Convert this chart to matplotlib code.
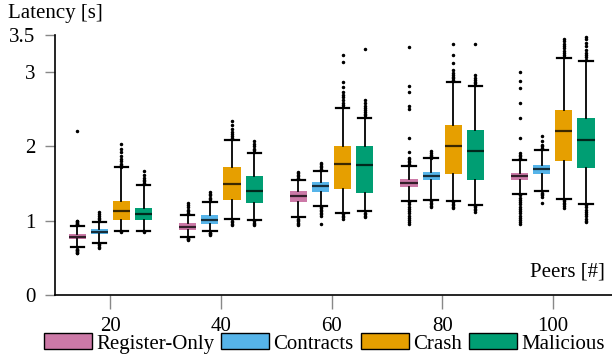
import matplotlib.pyplot as plt
from matplotlib.patches import Patch

# peers on the x axis
peers = [20, 40, 60, 80, 100]
series = ['Register-Only', 'Contracts', 'Crash', 'Malicious']
colors = ['#CC79A7', '#56B4E9', '#E69F00', '#009E73']

# box stats per series (one value per peer count)
q1 = [[0.753, 0.876, 1.258, 1.448, 1.544],
      [0.820, 0.958, 1.390, 1.544, 1.625],
      [1.012, 1.285, 1.421, 1.635, 1.802],
      [1.012, 1.244, 1.380, 1.553, 1.707]]
medians = [[0.785, 0.922, 1.335, 1.512, 1.598],
           [0.854, 1.012, 1.462, 1.598, 1.703],
           [1.127, 1.494, 1.762, 2.012, 2.203],
           [1.090, 1.407, 1.748, 1.935, 2.089]]
q3 = [[0.817, 0.971, 1.403, 1.563, 1.649],
      [0.886, 1.076, 1.522, 1.662, 1.753],
      [1.267, 1.717, 2.003, 2.289, 2.493],
      [1.172, 1.608, 2.003, 2.220, 2.384]]
whis_lo = [[0.640, 0.780, 1.049, 1.271, 1.362],
           [0.700, 0.858, 1.203, 1.277, 1.394],
           [0.868, 1.017, 1.108, 1.267, 1.298],
           [0.868, 1.004, 1.130, 1.213, 1.226]]
whis_hi = [[0.926, 1.076, 1.549, 1.734, 1.812],
           [0.985, 1.258, 1.666, 1.839, 1.948],
           [1.717, 2.089, 2.516, 2.865, 3.192],
           [1.480, 1.917, 2.384, 2.811, 3.147]]

register_fliers = [
    [0.94, 0.95, 0.96, 0.97, 0.98, 0.99, 1.0, 0.62, 0.61, 0.60, 0.59, 0.58, 0.57, 0.56, 2.21],
    [1.09, 1.11, 1.13, 1.15, 1.18, 1.21, 1.24, 0.77, 0.76, 0.75, 0.74],
    [1.56, 1.58, 1.60, 1.62, 1.64, 1.66, 1.03, 1.01, 0.99, 0.97, 0.95, 0.94],
    [1.75, 1.77, 1.79, 1.81, 1.83, 1.85, 1.92, 2.11, 2.50, 2.55, 2.73, 2.82, 3.34,
     1.25, 1.22, 1.19, 1.16, 1.13, 1.10, 1.07, 1.04, 1.01, 0.98, 0.95],
    [1.83, 1.85, 1.87, 1.89, 1.91, 2.11, 2.39, 2.58, 2.79, 2.88, 3.00,
     1.34, 1.31, 1.28, 1.25, 1.22, 1.19, 1.16, 1.13, 1.10, 1.07, 1.04, 1.01, 0.98, 0.96],
]
contracts_fliers = [
    [1.0, 1.02, 1.04, 1.06, 1.09, 1.12, 0.69, 0.67, 0.65, 0.63],
    [1.27, 1.29, 1.31, 1.34, 1.36, 1.39, 0.84, 0.83, 0.82, 0.81],
    [1.68, 1.70, 1.72, 1.74, 1.76, 1.78, 1.19, 1.17, 1.15, 1.13, 1.11, 1.09, 1.07, 0.95],
    [1.85, 1.87, 1.89, 1.91, 1.94, 1.26, 1.24, 1.22, 1.20, 1.18],
    [1.96, 1.98, 2.00, 2.02, 2.07, 2.14, 1.38, 1.36, 1.34, 1.32, 1.24],
]
crash_fliers = [
    [1.73, 1.75, 1.77, 1.80, 1.83, 1.87, 1.92, 1.97, 2.04, 0.86, 0.85],
    [2.10, 2.12, 2.14, 2.17, 2.20, 2.24, 2.29, 2.34, 1.0, 0.98, 0.96, 0.94],
    [2.53, 2.56, 2.59, 2.62, 2.66, 2.69, 2.73, 2.80, 2.87, 3.14, 3.23, 1.09, 1.07, 1.05, 1.03],
    [2.88, 2.90, 2.92, 2.94, 2.96, 2.99, 3.03, 3.12, 3.23, 3.38, 1.25, 1.23, 1.21, 1.19, 1.17],
    [3.21, 3.23, 3.26, 3.29, 3.32, 3.35, 3.38, 3.42, 3.45, 1.28, 1.26, 1.24, 1.22, 1.20, 1.17],
]
malicious_fliers = [
    [1.49, 1.51, 1.53, 1.55, 1.58, 1.62, 1.67, 0.86, 0.85],
    [1.93, 1.95, 1.97, 2.00, 2.03, 2.07, 0.99, 0.97, 0.95, 0.94],
    [2.40, 2.42, 2.44, 2.46, 2.49, 2.52, 2.55, 2.58, 2.62, 3.31, 1.11, 1.09, 1.07, 1.05],
    [2.83, 2.85, 2.87, 2.89, 2.92, 2.96, 3.38, 1.20, 1.18, 1.16, 1.14, 1.12],
    [3.17, 3.20, 3.23, 3.26, 3.30, 3.35, 3.40, 3.45, 3.47,
     1.21, 1.18, 1.15, 1.12, 1.09, 1.06, 1.03, 1.0, 0.985],
]
fliers = [register_fliers, contracts_fliers, crash_fliers, malicious_fliers]

plt.rcParams['font.family'] = ['Liberation Serif', 'DejaVu Serif']
plt.rcParams['font.size'] = 15

fig = plt.figure(figsize=(6.12, 3.58), dpi=100)
ax = fig.add_axes([0.0899, 0.176, 0.9101, 0.726])

# four boxes side by side around each peer count
offsets = [-6, -2, 2, 6]
for s in range(len(series)):
    stats = []
    for g in range(len(peers)):
        stats.append({'med': medians[s][g], 'q1': q1[s][g], 'q3': q3[s][g],
                      'whislo': whis_lo[s][g], 'whishi': whis_hi[s][g],
                      'fliers': fliers[s][g]})
    pos = [p + offsets[s] for p in peers]
    ax.bxp(stats, positions=pos, widths=3.1, capwidths=2.4, patch_artist=True,
           manage_ticks=False,
           boxprops=dict(facecolor=colors[s], edgecolor='none'),
           medianprops=dict(color='black', linewidth=1.6, alpha=0.75),
           whiskerprops=dict(color='black', linewidth=1.3),
           capprops=dict(color='black', linewidth=1.6),
           flierprops=dict(marker='o', markersize=1.5, markerfacecolor='black',
                           markeredgecolor='black'))

ax.set_xlim(10, 110.7)
ax.set_ylim(0, 3.5)
ax.set_xticks(peers)
ax.set_yticks([0, 1, 2, 3, 3.5])
ax.set_yticklabels(['0', '1', '2', '3', '3.5'])
ax.spines['top'].set_visible(False)
ax.spines['right'].set_visible(False)
ax.spines['left'].set_linewidth(1.2)
ax.spines['bottom'].set_linewidth(1.2)
ax.tick_params(axis='y', length=7, width=1, color='#888888', pad=7)
ax.tick_params(axis='x', length=10, width=1, color='#888888', pad=6)

fig.text(0.013, 0.962, 'Latency [s]', ha='left', va='center')
ax.text(0.987, 0.305 / 3.5, 'Peers [#]', transform=ax.transAxes,
        ha='right', va='center')

handles = [Patch(facecolor=c, edgecolor='black', linewidth=1) for c in colors]
fig.legend(handles, series, loc='lower center', bbox_to_anchor=(0.53, -0.04),
           ncol=4, frameon=False, handlelength=2.3, handleheight=0.8,
           handletextpad=0.2, columnspacing=0.35)

fig.savefig('out.png', dpi=100)
